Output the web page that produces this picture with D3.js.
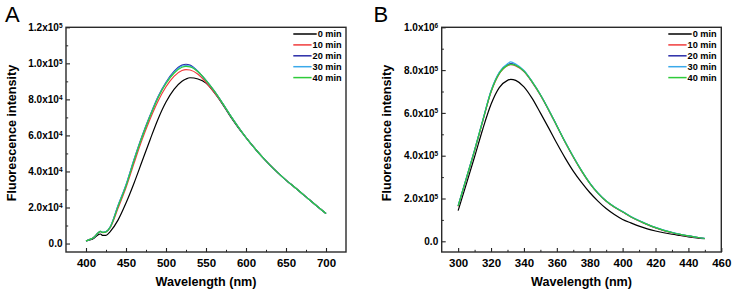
<!DOCTYPE html>
<html><head><meta charset="utf-8">
<script src="https://cdn.jsdelivr.net/npm/d3@7"></script>
<style>body{margin:0;background:#fff}svg{display:block}text{font-family:"Liberation Sans",Arial,sans-serif}</style>
</head><body>
<svg id="c" width="737" height="293"></svg>
<script>
// ---------- DATA ----------
const seriesNames = ["0 min","10 min","20 min","30 min","40 min"];
const seriesColors = ["#000000","#f03c3c","#2a2ca8","#3aa9ea","#2ecb3a"];

// Panel A
const wavelengthA = [400,405,410,415,418,421,425,430,440,450,460,470,480,490,500,510,520,525,530,540,550,560,570,580,590,600,610,620,630,640,650,660,670,680,690,700];
const a0min  = [1500,2000,3000,4800,5300,4500,4500,6500,13000,22500,33500,45500,57500,69000,78500,85500,90000,91300,92000,91300,89000,84000,77800,70800,64500,58800,53300,48200,43500,39200,35200,31500,27800,24000,20300,16700];
const a10min = [1500,2300,3500,5700,6600,6100,6400,8600,19500,31000,44500,57500,69000,79000,87000,92800,96000,96500,96300,94000,89500,84000,78000,71200,64800,58800,53300,48200,43500,39200,35200,31500,27800,24000,20300,16700];
const a20min = [1500,2300,3500,5800,6700,6200,6600,9000,21000,32500,46500,59500,71000,81500,89500,95500,99000,99500,99000,95500,90500,84800,78300,71400,64900,58800,53300,48200,43500,39200,35200,31500,27800,24000,20300,16700];
const a30min = [1500,2300,3500,5800,6700,6200,6600,9000,21000,32500,46500,59300,70800,81200,89200,95000,98500,98800,98500,95500,90500,84800,78300,71400,64900,58800,53300,48200,43500,39200,35200,31500,27800,24000,20300,16700];
const a40min = [1500,2300,3500,5800,6700,6200,6500,8800,20500,32000,46000,59000,70500,80800,88800,94500,97800,98300,98000,95300,90500,84800,78300,71400,64900,58800,53300,48200,43500,39200,35200,31500,27800,24000,20300,16700];
const xTicksA = [400,450,500,550,600,650,700];
const xMinorA = [425,475,525,575,625,675];
const yTicksA = [0,20000,40000,60000,80000,100000,120000];
const yTickLabelsA = ["0.0","2.0x10^4","4.0x10^4","6.0x10^4","8.0x10^4","1.0x10^5","1.2x10^5"];
const yMinorA = [10000,30000,50000,70000,90000,110000];

// Panel B
const wavelengthB = [300,305,310,315,320,325,330,332,335,340,345,350,355,360,365,370,375,380,385,390,395,400,405,410,415,420,425,430,435,440,445,450];
const b0min  = [143000,268000,395000,525000,640000,718000,752000,757000,752000,722000,668000,600000,530000,458000,390000,328000,275000,228000,188000,153000,125000,102000,86000,71000,58000,48000,40000,33000,27000,21000,16000,12000];
const b10min = [163000,292000,423000,562000,697000,782000,820000,825000,820000,793000,743000,683000,613000,538000,463000,393000,328000,271000,224000,187000,159000,137000,114000,95000,78000,63000,50000,40000,31000,24000,18000,13000];
const b20min = [165000,295000,426000,565000,701000,787000,825000,830000,824000,796000,745000,685000,615000,540000,465000,395000,330000,272000,225000,188000,160000,138000,115000,96000,79000,64000,51000,41000,32000,25000,19000,13000];
const b30min = [166000,296000,427000,567000,704000,790000,830000,838000,828000,798000,746000,686000,616000,541000,466000,396000,331000,273000,226000,189000,161000,139000,116000,97000,80000,65000,52000,42000,33000,25000,19000,14000];
const b40min = [165000,295000,425000,565000,700000,785000,822000,827000,822000,795000,745000,685000,615000,540000,465000,395000,330000,272000,225000,188000,160000,138000,115000,96000,79000,64000,51000,41000,32000,25000,19000,13000];
const xTicksB = [300,320,340,360,380,400,420,440,460];
const xMinorB = [310,330,350,370,390,410,430,450];
const yTicksB = [0,200000,400000,600000,800000,1000000];
const yTickLabelsB = ["0.0","2.0x10^5","4.0x10^5","6.0x10^5","8.0x10^5","1.0x10^6"];
const yMinorB = [100000,300000,500000,700000,900000];

// ---------- DRAW ----------
const svg = d3.select("#c");

function panel(cfg){
  const g = svg.append("g");
  const x = d3.scaleLinear().domain(cfg.xd).range([cfg.L, cfg.R]);
  const y = d3.scaleLinear().domain(cfg.yd).range([cfg.B, cfg.T]);

  // curves
  const line = d3.line().x(d=>x(d[0])).y(d=>y(d[1])).curve(d3.curveMonotoneX);
  cfg.series.forEach((vals,i)=>{
    const pts = cfg.wl.map((w,j)=>[w, vals[j]]);
    g.append("path").attr("d", line(pts)).attr("fill","none")
      .attr("stroke", seriesColors[i]).attr("stroke-width", 1.2);
  });

  // x axis
  const xa = g.append("g").attr("transform",`translate(0,${cfg.B})`)
    .call(d3.axisBottom(x).tickValues(cfg.xTicks).tickSizeInner(-4).tickSizeOuter(0).tickPadding(6.5).tickFormat(d3.format("d")));
  xa.select(".domain").remove();
  xa.selectAll("text").attr("font-size", 11.5).attr("font-weight","bold").attr("fill","#000");
  xa.selectAll("line").attr("stroke","#222").attr("stroke-width",1.1);
  const xm = g.append("g").attr("transform",`translate(0,${cfg.B})`)
    .call(d3.axisBottom(x).tickValues(cfg.xMinor).tickSizeInner(-2.2).tickSizeOuter(0).tickFormat(""));
  xm.select(".domain").remove();
  xm.selectAll("line").attr("stroke","#222").attr("stroke-width",1);

  // y axis
  const ya = g.append("g").attr("transform",`translate(${cfg.L},0)`)
    .call(d3.axisLeft(y).tickValues(cfg.yTicks).tickSizeInner(-4).tickSizeOuter(0).tickPadding(3.5).tickFormat((d,i)=>""));
  ya.select(".domain").remove();
  ya.selectAll("line").attr("stroke","#222").attr("stroke-width",1.1);
  ya.selectAll("text").each(function(d,i){
    const t = d3.select(this).attr("font-size",10).attr("font-weight","bold").attr("fill","#000");
    const parts = cfg.yLabels[i].split("^");
    t.append("tspan").text(parts[0]);
    if(parts[1]) t.append("tspan").attr("font-size",6.5).attr("dy","-0.5em").text(parts[1]);
  });
  const ym = g.append("g").attr("transform",`translate(${cfg.L},0)`)
    .call(d3.axisLeft(y).tickValues(cfg.yMinor).tickSizeInner(-2.2).tickSizeOuter(0).tickFormat(""));
  ym.select(".domain").remove();
  ym.selectAll("line").attr("stroke","#222").attr("stroke-width",1);

  // frame
  g.append("rect").attr("x",cfg.L).attr("y",cfg.T).attr("width",cfg.R-cfg.L).attr("height",cfg.B-cfg.T)
    .attr("fill","none").attr("stroke","#2a2a2a").attr("stroke-width",1.4);

  // titles
  g.append("text").attr("x",(cfg.L+cfg.R)/2).attr("y",286).attr("text-anchor","middle")
    .attr("font-size",12.6).attr("font-weight","bold").text("Wavelength (nm)");
  g.append("text").attr("transform",`translate(${cfg.yTitleX},133) rotate(-90)`).attr("text-anchor","middle")
    .attr("font-size",12.6).attr("font-weight","bold").text("Fluorescence intensity");
  g.append("text").attr("x",cfg.labelX).attr("y",21.5).attr("font-size",22).text(cfg.label);

  // legend
  seriesNames.forEach((n,i)=>{
    const yy = 34 + i*10.9;
    const t = g.append("text").attr("x",cfg.legR).attr("y",yy).attr("dy","0.35em").attr("text-anchor","end")
      .attr("font-size",9.2).attr("font-weight","bold").text(n);
    const w = t.node().getComputedTextLength();
    g.append("line").attr("x1",cfg.legL).attr("x2",cfg.legR - w - 1).attr("y1",yy).attr("y2",yy)
      .attr("stroke",seriesColors[i]).attr("stroke-width",1.5);
  });
}

panel({L:66,R:346,T:27.3,B:252,xd:[375,725],yd:[-4700,120000],wl:wavelengthA,
  series:[a0min,a10min,a20min,a30min,a40min],xTicks:xTicksA,xMinor:xMinorA,yTicks:yTicksA,yLabels:yTickLabelsA,yMinor:yMinorA,
  yTitleX:16,labelX:5,label:"A",legL:293.3,legR:341.7});
panel({L:441.7,R:721.3,T:27.3,B:252,xd:[290,460],yd:[-50000,1000000],wl:wavelengthB,
  series:[b0min,b10min,b20min,b30min,b40min],xTicks:xTicksB,xMinor:xMinorB,yTicks:yTicksB,yLabels:yTickLabelsB,yMinor:yMinorB,
  yTitleX:391,labelX:373.5,label:"B",legL:668.3,legR:716.7});
</script>
</body></html>
